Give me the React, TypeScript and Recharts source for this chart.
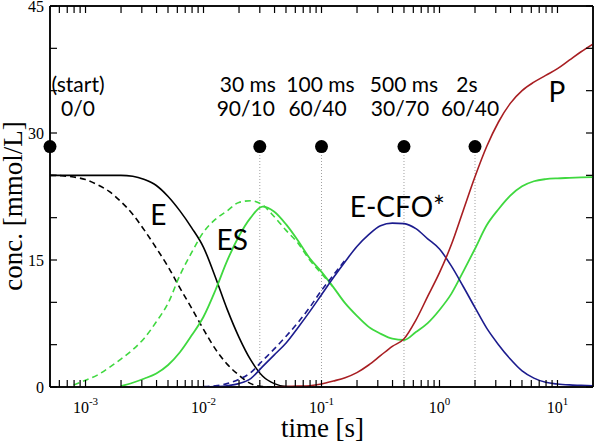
import React from "react";
import {
  LineChart,
  Line,
  XAxis,
  YAxis,
  CartesianGrid,
  ReferenceDot,
  ReferenceLine,
  Label,
} from "recharts";

// --- time grid (log10 of seconds), every 0.1 decade
const logTime = [
  -3.3, -3.2, -3.1, -3.0, -2.9, -2.8, -2.7, -2.6, -2.5, -2.4, -2.3, -2.2, -2.1,
  -2.0, -1.9, -1.8, -1.7, -1.6, -1.5, -1.4, -1.3, -1.2, -1.1, -1.0, -0.9, -0.8,
  -0.7, -0.6, -0.5, -0.4, -0.3, -0.2, -0.1, 0.0, 0.1, 0.2, 0.3, 0.4, 0.5, 0.6,
  0.7, 0.8, 0.9, 1.0, 1.1, 1.2, 1.3,
];

const N = null;

// free enzyme E (solid / dashed)
const eSolid = [
  25, 25, 25, 25, 25, 25, 25, 24.9, 24.5, 23.8, 22.5, 20.8, 18.8, 16.5, 13.0,
  9.2, 5.9, 3.2, 1.3, 0.4, 0.05, 0, 0, N, N, N, N, N, N, N, N, N, N, N, N, N,
  N, N, N, N, N, N, N, N, N, N, N,
];
const eDashed = [
  25, 24.95, 24.8, 24.5, 23.9, 23.1, 21.9, 20.4, 18.5, 16.4, 14.2, 11.7, 9.3,
  6.8, 4.5, 2.7, 1.4, 0.4, 0.05, 0, N, N, N, N, N, N, N, N, N, N, N, N, N, N,
  N, N, N, N, N, N, N, N, N, N, N, N, N,
];

// enzyme-substrate complex ES
const esSolid = [
  N, N, N, N, N, N, 0.1, 0.5, 1.0, 1.6, 2.6, 4.1, 6.1, 8.3, 11.4, 14.9, 17.8,
  20.0, 21.3, 20.7, 19.2, 17.3, 15.2, 13.6, 11.8, 9.9, 8.4, 7.1, 6.3, 5.7, 5.55,
  6.5, 7.55, 9.1, 11.0, 13.6, 16.3, 19.1, 21.0, 22.6, 23.7, 24.3, 24.55, 24.65,
  24.7, 24.75, 24.8,
];
const esDashed = [
  N, N, 0.25, 0.8, 1.4, 2.3, 3.3, 4.4, 5.8, 7.7, 9.9, 13.2, 15.9, 18.3, 19.8,
  20.8, 21.8, 22.0, 21.5, 20.1, 18.5, 17.0, 15.0, 13.4, 11.8, N, N, N, N, N, N,
  N, N, N, N, N, N, N, N, N, N, N, N, N, N, N, N,
];

// acyl-enzyme E-CFO*
const ecfoSolid = [
  N, N, N, N, N, N, N, N, N, N, N, N, N, 0, 0.05, 0.15, 0.4, 1.0, 2.4, 3.8,
  5.2, 7.0, 8.9, 10.9, 12.9, 14.8, 16.6, 18.0, 19.05, 19.35, 19.3, 18.7, 17.5,
  16.3, 14.3, 11.9, 9.4, 6.95, 5.0, 3.3, 1.9, 1.05, 0.55, 0.35, 0.25, 0.2, 0.15,
];
const ecfoDashed = [
  N, N, N, N, N, N, N, N, N, N, N, N, N, 0.05, 0.15, 0.4, 0.9, 1.7, 3.1, 4.5,
  6.0, 7.6, 9.4, 11.4, 13.2, 15.0, N, N, N, N, N, N, N, N, N, N, N, N, N, N, N,
  N, N, N, N, N, N,
];

// product P
const product = [
  N, N, N, N, N, N, N, N, N, N, N, N, N, N, N, N, N, N, N, 0, 0.05, 0.1, 0.15,
  0.35, 0.7, 1.1, 1.7, 2.6, 3.7, 4.8, 5.7, 7.9, 10.7, 13.5, 16.8, 20.8, 24.8,
  28.4, 31.3, 33.5, 35.0, 36.0, 36.8, 37.6, 38.6, 39.6, 40.5,
];

// sampling points marked on the plot
const sampleTimes = [0.0005, 0.03, 0.1, 0.5, 2];
const sampleNames = ["(start)", "30 ms", "100 ms", "500 ms", "2s"];
const sampleRatios = ["0/0", "90/10", "60/40", "30/70", "60/40"];
const sampleConc = 28.4;
const sampleNameDx = [28, -12, -1, 0, -8];
const sampleRatioDx = [28, -14, -4, -4, -5];

// curve names
const curveNames = ["E", "ES", "E-CFO*", "P"];
const curveNameTimes = [0.00415, 0.0175, 0.44, 9.9];
const curveNameConc = [19.1, 16.2, 20.1, 33.7];

const timeMin = 0.0005;
const timeMax = 20;
const concMax = 45;
const majorTimeTicks = [0.001, 0.01, 0.1, 1, 10];
const majorConcTicks = [0, 15, 30, 45];
const minorConcTicks = [5, 10, 20, 25, 35, 40];

const timeTicks: number[] = [];
[0.0001, 0.001, 0.01, 0.1, 1, 10].forEach((d) => {
  for (let m = 1; m <= 9; m++) {
    const v = +(m * d).toPrecision(3);
    if (v > timeMin && v < timeMax) timeTicks.push(v);
  }
});
const concTicks = [...majorConcTicks, ...minorConcTicks].sort((a, b) => a - b);

const rows = logTime.map((lt, i) => ({
  t: Math.pow(10, lt),
  eSolid: eSolid[i],
  eDashed: eDashed[i],
  esSolid: esSolid[i],
  esDashed: esDashed[i],
  ecfoSolid: ecfoSolid[i],
  ecfoDashed: ecfoDashed[i],
  product: product[i],
}));

const serif = "'Liberation Serif', 'Times New Roman', serif";
const sans = "Lato, 'Open Sans', sans-serif";

const GREEN = "#3fd83f";
const BLUE = "#1c1c8e";
const RED = "#a81e22";

const TICK_IN = 7; // inward tick length

const isMajorTime = (v: number) => majorTimeTicks.some((m) => Math.abs(m - v) < m * 1e-6);

function BottomTick(props: any) {
  const { x, y, payload } = props;
  if (!isMajorTime(payload.value)) return <g />;
  return (
    <text x={x} y={y + 26} textAnchor="middle" fontFamily={serif} fontSize={16} fill="#000">
      10
      <tspan dy={-8} fontSize={11}>
        {Math.round(Math.log10(payload.value))}
      </tspan>
    </text>
  );
}

function LeftTick(props: any) {
  const { x, y, payload } = props;
  if (!majorConcTicks.includes(payload.value)) return <g />;
  return (
    <text x={x - 6} y={y + 6} textAnchor="end" fontFamily={serif} fontSize={16} fill="#000">
      {payload.value}
    </text>
  );
}

const NoLabel = () => <g />;

function XTitle(props: any) {
  const { viewBox } = props;
  return (
    <text
      x={viewBox.x + viewBox.width / 2 + 1}
      y={viewBox.y + 50}
      textAnchor="middle"
      fontFamily={serif}
      fontSize={27}
      fill="#000"
    >
      time [s]
    </text>
  );
}

function YTitle(props: any) {
  const { viewBox } = props;
  const cx = 22;
  const cy = viewBox.y + viewBox.height / 2 + 9.5;
  return (
    <text
      x={cx}
      y={cy}
      transform={`rotate(-90 ${cx} ${cy})`}
      textAnchor="middle"
      fontFamily={serif}
      fontSize={27}
      fill="#000"
    >
      conc. [mmol/L]
    </text>
  );
}

const axisLine = { stroke: "#000", strokeWidth: 1.5 };
const tickLine = { stroke: "#000", strokeWidth: 1.2 };

export default function App() {
  return (
    <div style={{ position: "absolute", left: 0, top: 0, width: 597, height: 446, background: "#fff" }}>
      <LineChart width={597} height={446} data={rows} margin={{ top: 0, right: 0, bottom: 0, left: 0 }}>
        {/* box around the plot area */}
        <CartesianGrid
          stroke="#000"
          strokeWidth={1.5}
          fill="none"
          horizontalCoordinatesGenerator={({ offset }: any) => [offset.top, offset.top + offset.height]}
          verticalCoordinatesGenerator={({ offset }: any) => [offset.left, offset.left + offset.width]}
        />
        <XAxis
          dataKey="t"
          type="number"
          scale="log"
          domain={[timeMin, timeMax]}
          allowDataOverflow
          ticks={timeTicks}
          interval={0}
          tick={BottomTick}
          tickLine={tickLine}
          tickSize={-TICK_IN}
          tickMargin={TICK_IN}
          height={59}
          axisLine={axisLine}
        >
          <Label content={XTitle} />
        </XAxis>
        {/* mirrored axes close the frame on top and right */}
        <XAxis
          xAxisId="top"
          orientation="top"
          dataKey="t"
          type="number"
          scale="log"
          domain={[timeMin, timeMax]}
          allowDataOverflow
          ticks={timeTicks}
          interval={0}
          tick={NoLabel}
          tickLine={tickLine}
          tickSize={-TICK_IN}
          tickMargin={TICK_IN}
          height={6}
          axisLine={axisLine}
        />
        <YAxis
          type="number"
          domain={[0, concMax]}
          allowDataOverflow
          ticks={concTicks}
          interval={0}
          tick={LeftTick}
          tickLine={tickLine}
          tickSize={-TICK_IN}
          tickMargin={TICK_IN}
          width={50}
          axisLine={axisLine}
        >
          <Label content={YTitle} />
        </YAxis>
        <YAxis
          yAxisId="right"
          orientation="right"
          type="number"
          domain={[0, concMax]}
          allowDataOverflow
          ticks={concTicks}
          interval={0}
          tick={NoLabel}
          tickLine={tickLine}
          tickSize={-TICK_IN}
          tickMargin={TICK_IN}
          width={4}
          axisLine={axisLine}
        />

        {sampleTimes.slice(1).map((t) => (
          <ReferenceLine
            key={"v" + t}
            segment={[
              { x: t, y: 0 },
              { x: t, y: sampleConc },
            ]}
            stroke="#a0a0a0"
            strokeWidth={1}
            strokeDasharray="1 2"
          />
        ))}

        <Line dataKey="eDashed" type="monotone" stroke="#000" strokeWidth={1.6} strokeDasharray="6 4" dot={false} isAnimationActive={false} />
        <Line dataKey="eSolid" type="monotone" stroke="#000" strokeWidth={1.6} dot={false} isAnimationActive={false} />
        <Line dataKey="esDashed" type="monotone" stroke={GREEN} strokeWidth={1.6} strokeDasharray="6 4" dot={false} isAnimationActive={false} />
        <Line dataKey="esSolid" type="monotone" stroke={GREEN} strokeWidth={1.8} dot={false} isAnimationActive={false} />
        <Line dataKey="ecfoDashed" type="monotone" stroke={BLUE} strokeWidth={1.6} strokeDasharray="6 4" dot={false} isAnimationActive={false} />
        <Line dataKey="ecfoSolid" type="monotone" stroke={BLUE} strokeWidth={1.6} dot={false} isAnimationActive={false} />
        {/* P is plotted on the mirrored axes (same domains), which keeps them active */}
        <Line xAxisId="top" yAxisId="right" dataKey="product" type="monotone" stroke={RED} strokeWidth={1.6} dot={false} isAnimationActive={false} />

        {sampleTimes.map((t, i) => (
          <ReferenceDot
            key={"s" + i}
            x={t}
            y={sampleConc}
            r={6.5}
            ifOverflow="visible"
            shape={(p: any) => (
              <g>
                <circle cx={p.cx} cy={p.cy} r={6.5} fill="#000" />
                <text x={p.cx + sampleNameDx[i]} y={p.cy - 55} textAnchor="middle" fontFamily={sans} fontSize={21} fill="#000">
                  {sampleNames[i]}
                </text>
                <text x={p.cx + sampleRatioDx[i]} y={p.cy - 31} textAnchor="middle" fontFamily={sans} fontSize={21} fill="#000">
                  {sampleRatios[i]}
                </text>
              </g>
            )}
          />
        ))}

        {curveNames.map((name, i) => (
          <ReferenceDot
            key={"c" + i}
            x={curveNameTimes[i]}
            y={curveNameConc[i]}
            r={1}
            ifOverflow="visible"
            shape={(p: any) => (
              <text x={p.cx} y={p.cy} textAnchor="middle" fontFamily={sans} fontSize={28} fill="#000">
                {name}
              </text>
            )}
          />
        ))}
      </LineChart>
    </div>
  );
}
